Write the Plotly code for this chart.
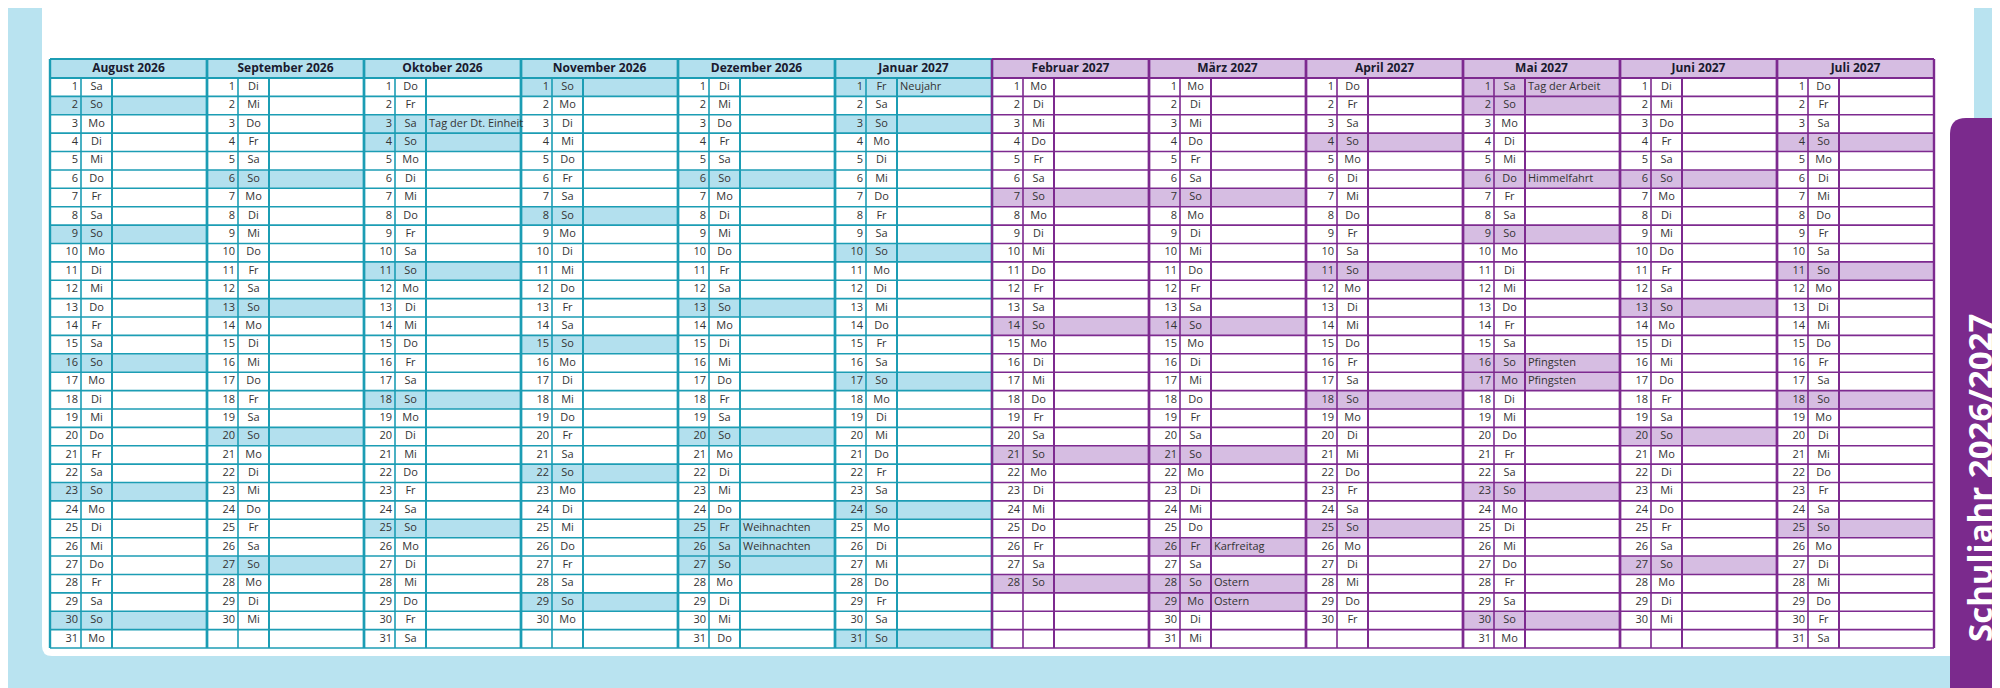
import datetime
import plotly.graph_objects as go

# ---- data ----
months = ["August 2026", "September 2026", "Oktober 2026", "November 2026",
          "Dezember 2026", "Januar 2027", "Februar 2027", "März 2027",
          "April 2027", "Mai 2027", "Juni 2027", "Juli 2027"]
month_numbers = [8, 9, 10, 11, 12, 1, 2, 3, 4, 5, 6, 7]
month_years = [2026, 2026, 2026, 2026, 2026, 2027, 2027, 2027, 2027, 2027, 2027, 2027]
weekday_names = ["Mo", "Di", "Mi", "Do", "Fr", "Sa", "So"]
holidays = {
    (2026, 10, 3): "Tag der Dt. Einheit",
    (2026, 12, 25): "Weihnachten",
    (2026, 12, 26): "Weihnachten",
    (2027, 1, 1): "Neujahr",
    (2027, 3, 26): "Karfreitag",
    (2027, 3, 28): "Ostern",
    (2027, 3, 29): "Ostern",
    (2027, 5, 1): "Tag der Arbeit",
    (2027, 5, 6): "Himmelfahrt",
    (2027, 5, 16): "Pfingsten",
    (2027, 5, 17): "Pfingsten",
}
title = "Schuljahr 2026/2027"

# ---- geometry / style ----
X0, MW = 42, 157.0
C1, C2 = 31, 31
HY0, HY1, BOT = 51, 70, 640
RH = (BOT - HY1) / 31
TEAL, TEAL_FILL = "#1c9db4", "#b3e0ee"
PURP, PURP_FILL = "#7d2a8f", "#d6bde2"
BG = "#b9e3f0"
FONT = "Open Sans"

shapes = []
# page background pieces
shapes.append(dict(type="path", path="M 34 -5 L 1966 -5 L 1966 648 L 44 648 Q 34 648 34 638 Z",
                   fillcolor="white", line=dict(width=0), layer="below"))
shapes.append(dict(type="path", path="M 1942 700 L 1942 126 Q 1942 110 1958 110 L 2005 110 L 2005 700 Z",
                   fillcolor="#7b2a8d", line=dict(width=0), layer="below"))

tx, ty, tt, tc = [], [], [], []
lines = {}

def seg(color, w, xa, ya, xb, yb):
    lx, ly = lines.setdefault((color, w), ([], []))
    lx += [xa, xb, None]
    ly += [ya, yb, None]

for m, (name, mn, yr) in enumerate(zip(months, month_numbers, month_years)):
    col = TEAL if m < 6 else PURP
    fill = TEAL_FILL if m < 6 else PURP_FILL
    x = X0 + m * MW
    shapes.append(dict(type="rect", x0=x, x1=x + MW, y0=HY0, y1=HY1, fillcolor=fill,
                       line=dict(width=0), layer="below"))
    tx.append(x + MW / 2); ty.append((HY0 + HY1) / 2 + 0.5); tt.append("<b>%s</b>" % name); tc.append("head")
    for d in range(1, 32):
        y0 = HY1 + (d - 1) * RH
        yc = y0 + RH / 2
        try:
            dt = datetime.date(yr, mn, d)
        except ValueError:
            continue
        wd = dt.weekday()
        note = holidays.get((yr, mn, d), "")
        if wd == 6 or note:
            shapes.append(dict(type="rect", x0=x, x1=x + MW, y0=y0, y1=y0 + RH, fillcolor=fill,
                               line=dict(width=0), layer="below"))
        tx.append(x + C1 - 3); ty.append(yc); tt.append(str(d)); tc.append("right")
        tx.append(x + C1 + C2 / 2); ty.append(yc); tt.append(weekday_names[wd]); tc.append("center")
        if note:
            tx.append(x + C1 + C2 + 3); ty.append(yc); tt.append(note); tc.append("left")
    # grid
    for d in range(32):
        yy = HY1 + d * RH
        seg(col, 1.6, x, yy, x + MW, yy)
    seg(col, 2.2, x, HY0, x + MW, HY0)
    seg(col, 2.2, x, HY1, x + MW, HY1)
    seg(col, 1.6, x + C1, HY1, x + C1, BOT)
    seg(col, 2.0, x + C1 + C2, HY1, x + C1 + C2, BOT)
    seg(col, 2.4, x, HY0, x, BOT)
    seg(col, 2.4, x + MW, HY0, x + MW, BOT)

fig = go.Figure()
for (c, w), (lx, ly) in lines.items():
    fig.add_trace(go.Scatter(x=lx, y=ly, mode="lines", line=dict(color=c, width=w),
                             hoverinfo="skip", showlegend=False))

for pos, tp, size, color in [("head", "middle center", 12, "#1a1a2e"),
                             ("right", "middle left", 11, "#333333"),
                             ("center", "middle center", 11, "#333333"),
                             ("left", "middle right", 11, "#333333")]:
    fig.add_trace(go.Scatter(
        x=[a for a, c in zip(tx, tc) if c == pos], y=[a for a, c in zip(ty, tc) if c == pos],
        text=[a for a, c in zip(tt, tc) if c == pos], mode="text", textposition=tp,
        textfont=dict(family=FONT, size=size, color=color),
        hoverinfo="skip", showlegend=False))

fig.add_annotation(x=1971, y=470, text="<b>%s</b>" % title, textangle=-90, showarrow=False,
                   font=dict(family=FONT, size=33, color="white"))

fig.update_layout(width=2000, height=688, margin=dict(l=0, r=0, t=0, b=0),
                  paper_bgcolor=BG, plot_bgcolor=BG, shapes=shapes,
                  xaxis=dict(range=[0, 2000], visible=False, fixedrange=True),
                  yaxis=dict(range=[688, 0], visible=False, fixedrange=True))
fig.write_html("out.html")
